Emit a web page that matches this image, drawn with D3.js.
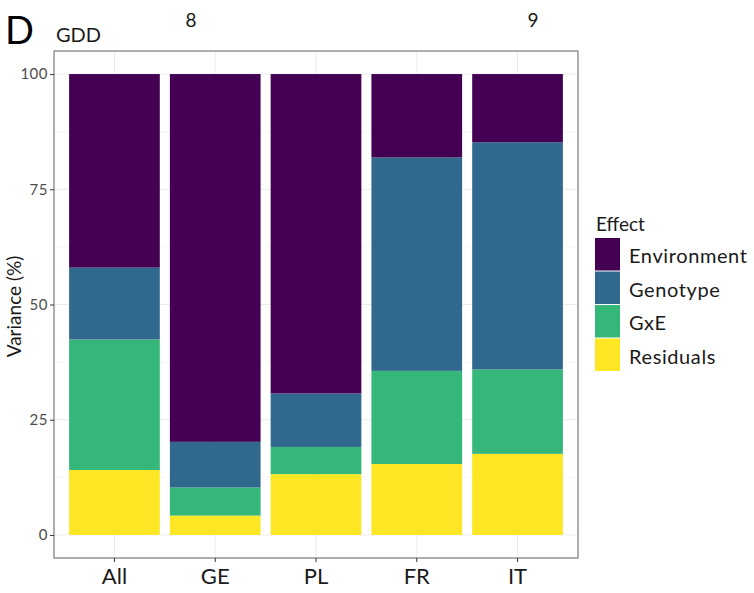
<!DOCTYPE html>
<html>
<head>
<meta charset="utf-8">
<script src="https://cdn.jsdelivr.net/npm/d3@7/dist/d3.min.js"></script>
<style>
  html, body { margin: 0; padding: 0; background: #fff; }
  svg { display: block; font-family: Lato, "Open Sans", sans-serif; }
</style>
</head>
<body>
<svg id="chart" width="754" height="593"></svg>
<script>
// Variance partition (%) of GDD per trial set
const sites = ["All", "GE", "PL", "FR", "IT"];
const effects = ["Environment", "Genotype", "GxE", "Residuals"];
const environment = [42.0, 79.8, 69.3, 18.1, 14.8];
const genotype    = [15.6,  9.9, 11.6, 46.3, 49.3];
const gxe         = [28.3,  6.1,  5.9, 20.2, 18.3];
const residuals   = [14.1,  4.2, 13.2, 15.4, 17.6];
const yTicks = [0, 25, 50, 75, 100];
const effectColors = ["#440154", "#31688E", "#35B779", "#FDE725"];

const rows = sites.map((s, i) => ({
  site: s,
  Environment: environment[i],
  Genotype: genotype[i],
  GxE: gxe[i],
  Residuals: residuals[i]
}));

const svg = d3.select("#chart");
const panel = { left: 54, right: 578, top: 51, bottom: 558 };

const x = d3.scaleBand()
  .domain(sites)
  .range([panel.left, panel.right])
  .paddingInner(0.1)
  .paddingOuter(0.15);

const y = d3.scaleLinear()
  .domain([-5, 105])
  .range([panel.bottom, panel.top]);

const color = d3.scaleOrdinal().domain(effects).range(effectColors);

// grid
const g = svg.append("g");
const minor = d3.range(12.5, 100, 25);
g.selectAll("line.minor").data(minor).join("line")
  .attr("x1", panel.left).attr("x2", panel.right)
  .attr("y1", d => y(d)).attr("y2", d => y(d))
  .attr("stroke", "#f3f3f3").attr("stroke-width", 0.8);
g.selectAll("line.major").data(yTicks).join("line")
  .attr("x1", panel.left).attr("x2", panel.right)
  .attr("y1", d => y(d)).attr("y2", d => y(d))
  .attr("stroke", "#ebebeb").attr("stroke-width", 1);
g.selectAll("line.vgrid").data(sites).join("line")
  .attr("x1", d => x(d) + x.bandwidth() / 2).attr("x2", d => x(d) + x.bandwidth() / 2)
  .attr("y1", panel.top).attr("y2", panel.bottom)
  .attr("stroke", "#ebebeb").attr("stroke-width", 1);

// stacked bars: residuals at the bottom, environment on top
const stackKeys = ["Residuals", "GxE", "Genotype", "Environment"];
const series = d3.stack().keys(stackKeys)(rows);
svg.append("g").selectAll("g").data(series).join("g")
  .attr("fill", d => color(d.key))
  .selectAll("rect").data(d => d).join("rect")
  .attr("x", d => x(d.data.site))
  .attr("width", x.bandwidth())
  .attr("y", d => y(d[1]))
  .attr("height", d => y(d[0]) - y(d[1]));

// panel border
svg.append("rect")
  .attr("x", panel.left).attr("y", panel.top)
  .attr("width", panel.right - panel.left).attr("height", panel.bottom - panel.top)
  .attr("fill", "none").attr("stroke", "#7a7a7a").attr("stroke-width", 1.2);

// axes
const yAxis = svg.append("g")
  .attr("transform", `translate(${panel.left},0)`)
  .call(d3.axisLeft(y).tickValues(yTicks).tickSize(4).tickPadding(2));
yAxis.select(".domain").remove();
yAxis.selectAll(".tick line").attr("stroke", "#333");
yAxis.selectAll(".tick text").attr("fill", "#4d4d4d")
  .style("font-size", "15px").style("letter-spacing", "0.5px")
  .style("font-family", "Lato, sans-serif");

const xAxis = svg.append("g")
  .attr("transform", `translate(0,${panel.bottom})`)
  .call(d3.axisBottom(x).tickSize(4).tickPadding(6));
xAxis.select(".domain").remove();
xAxis.selectAll(".tick line").attr("stroke", "#333");
xAxis.selectAll(".tick text").attr("fill", "#1a1a1a")
  .style("font-size", "22px").style("font-family", "Lato, sans-serif");

// axis title
svg.append("text")
  .attr("transform", `translate(21,${(y(0) + y(100)) / 2 + 2}) rotate(-90)`)
  .attr("text-anchor", "middle")
  .style("font-size", "19px").attr("fill", "#1a1a1a")
  .text("Variance (%)");

// panel heading texts
svg.append("text").attr("x", 5).attr("y", 44)
  .style("font-size", "38px").attr("fill", "#000").text("D");
svg.append("text").attr("x", 56).attr("y", 42)
  .style("font-size", "20px").attr("fill", "#1a1a1a").text("GDD");
svg.append("text").attr("x", 191).attr("y", 27).attr("text-anchor", "middle")
  .style("font-size", "19px").attr("fill", "#1a1a1a").text("8");
svg.append("text").attr("x", 533).attr("y", 27).attr("text-anchor", "middle")
  .style("font-size", "19px").attr("fill", "#1a1a1a").text("9");

// legend
const legend = svg.append("g").attr("transform", "translate(595,0)");
legend.append("text").attr("x", 1).attr("y", 231)
  .style("font-size", "19px").attr("fill", "#1a1a1a").text("Effect");
const item = legend.selectAll("g.item").data(effects).join("g")
  .attr("transform", (d, i) => `translate(0,${238 + i * 33.5})`);
item.append("rect").attr("width", 25).attr("height", 32.5)
  .attr("fill", d => color(d));
item.append("text").attr("x", 34).attr("y", 25)
  .style("font-size", "20px").style("letter-spacing", "0.6px")
  .attr("fill", "#1a1a1a").text(d => d);
</script>
</body>
</html>
